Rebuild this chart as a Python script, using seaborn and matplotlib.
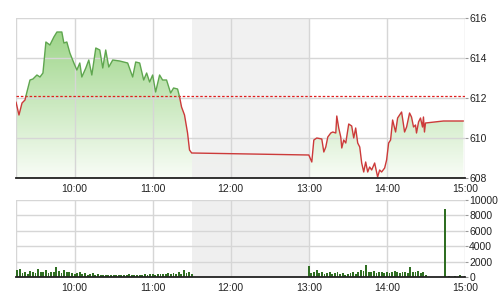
import numpy as np
import pandas as pd
import matplotlib
matplotlib.use("Agg")
import matplotlib.pyplot as plt
import seaborn as sns

# ---------------- data ----------------
price_hours = [9.250, 9.288, 9.327, 9.365, 9.390, 9.429, 9.467, 9.518, 9.557, 9.595,
               9.633, 9.684, 9.735, 9.774, 9.837, 9.863, 9.901, 9.940, 9.991, 10.029,
               10.067, 10.093, 10.144, 10.182, 10.221, 10.272, 10.323, 10.361, 10.399, 10.438,
               10.489, 10.578, 10.680, 10.744, 10.783, 10.834, 10.885, 10.923, 10.961, 11.000,
               11.038, 11.089, 11.127, 11.178, 11.230, 11.268, 11.319, 11.345, 11.370, 11.408,
               11.447, 11.472, 11.500, 13.000, 13.038, 13.064, 13.102, 13.166, 13.192, 13.217,
               13.243, 13.281, 13.307, 13.345, 13.358, 13.383, 13.409, 13.422, 13.447, 13.473,
               13.511, 13.549, 13.575, 13.600, 13.626, 13.652, 13.677, 13.703, 13.728, 13.754,
               13.779, 13.805, 13.843, 13.881, 13.907, 13.932, 13.971, 13.996, 14.022, 14.047,
               14.073, 14.111, 14.137, 14.162, 14.188, 14.213, 14.226, 14.252, 14.290, 14.315,
               14.341, 14.366, 14.379, 14.405, 14.430, 14.456, 14.468, 14.481, 14.494, 14.724,
               14.980]
price_values = [611.80, 611.15, 611.75, 611.90, 612.30, 612.90, 612.95, 613.15, 613.05, 613.25,
                614.80, 614.65, 615.05, 615.30, 615.30, 614.75, 614.80, 614.25, 613.75, 613.40,
                613.75, 613.05, 613.50, 613.90, 613.15, 614.50, 614.40, 613.50, 614.40, 613.55,
                613.90, 613.85, 613.75, 613.05, 613.80, 613.75, 612.90, 613.25, 612.80, 613.15,
                612.30, 613.15, 612.90, 612.90, 612.25, 612.50, 612.45, 612.05, 611.55, 611.15,
                610.25, 609.40, 609.25, 609.15, 608.80, 609.90, 610.00, 609.95, 609.30, 609.55,
                610.05, 610.25, 610.30, 610.25, 611.10, 610.50, 610.05, 609.50, 609.90, 609.75,
                610.70, 610.60, 610.00, 610.50, 609.75, 609.55, 608.75, 608.30, 608.80, 608.30,
                608.55, 608.40, 608.75, 608.05, 608.40, 608.30, 608.50, 608.90, 609.75, 609.90,
                610.90, 610.30, 611.00, 611.15, 611.30, 610.65, 610.30, 610.55, 611.25, 611.05,
                610.55, 610.65, 610.25, 610.80, 611.00, 610.55, 611.05, 610.30, 610.75, 610.85,
                610.85]
reference_price = 612.1

vol_am_start = 9 + 16 / 60
vol_am = [900, 1100, 500, 700, 400, 800, 600, 500, 1000, 700, 600, 900, 500, 700, 600,
          1300, 800, 500, 900, 700, 600, 500, 400, 500, 600, 400, 500, 300, 400, 500,
          300, 400, 300, 200, 300, 250, 300, 200, 250, 300, 200, 250, 300, 350, 250,
          200, 300, 250, 300, 350, 300, 400, 350, 300, 400, 350, 450, 400, 500, 400,
          500, 400, 600, 450, 900, 500, 700, 400]
vol_pm_start = 13.0
vol_pm = [1400, 500, 700, 900, 500, 600, 400, 500, 700, 400, 500, 600, 400, 500, 300,
          400, 500, 600, 400, 700, 900, 800, 1500, 700, 600, 800, 500, 700, 600, 500,
          600, 500, 700, 800, 600, 500, 700, 600, 500, 1300, 700, 600, 800, 500, 600,
          300]
vol_close_hours = [14.74, 14.80, 14.867, 14.933, 15.0]
vol_close = [8800, 150, 150, 200, 150]

x_ticks = [10, 11, 12, 13, 14, 15]
x_labels = ["10:00", "11:00", "12:00", "13:00", "14:00", "15:00"]
price_ticks = [608, 610, 612, 614, 616]
vol_ticks = [0, 2000, 4000, 6000, 8000, 10000]

# ---------------- style ----------------
sns.set_style("white")
plt.rcParams["font.family"] = ["Liberation Sans", "DejaVu Sans"]

fig = plt.figure(figsize=(5.01, 3.0), dpi=100)
ax = fig.add_axes([16 / 501, 1 - 178 / 300, 449 / 501, 160 / 300])
axv = fig.add_axes([16 / 501, 1 - 277 / 300, 449 / 501, 77 / 300])

XMIN, XMAX = 9.25, 15.0
GRID = "#d6d6d6"
BAND = "#efefef"

# ---------------- price panel ----------------
ax.set_xlim(XMIN, XMAX)
ax.set_ylim(608, 616)

xs = np.array(price_hours)
ys = np.array(price_values)

# gradient fill under line
grad = np.linspace(0, 1, 256)[:, None]
top = np.array([150, 210, 128]) / 255
bot = np.array([249, 253, 247]) / 255
img = (top[None, None, :] * (1 - grad[..., None]) + bot[None, None, :] * grad[..., None])
img = np.repeat(img, 2, axis=1)
im = ax.imshow(img, extent=[XMIN, XMAX, 608, 616], aspect="auto", origin="upper", zorder=1)
poly = ax.fill_between(xs, ys, 608, color="none", lw=0)
im.set_clip_path(poly.get_paths()[0], transform=ax.transData)

ax.axvspan(11.5, 13.0, color=BAND, alpha=0.85, lw=0, zorder=1.2)
for yv in price_ticks:
    ax.axhline(yv, color=GRID, lw=1, zorder=1.5)
for xv in [XMIN] + x_ticks:
    ax.axvline(xv, color=GRID, lw=1, zorder=1.5)

# split line into above/below reference segments
rows = []
seg = 0
side = ys[0] >= reference_price
rows.append((xs[0], ys[0], seg, side))
for i in range(1, len(xs)):
    s = ys[i] >= reference_price
    if s != side:
        t = (reference_price - ys[i - 1]) / (ys[i] - ys[i - 1])
        xc = xs[i - 1] + t * (xs[i] - xs[i - 1])
        rows.append((xc, reference_price, seg, side))
        seg += 1
        side = s
        rows.append((xc, reference_price, seg, side))
    rows.append((xs[i], ys[i], seg, side))
df = pd.DataFrame(rows, columns=["hour", "price", "seg", "above"])
df["side"] = np.where(df["above"], "up", "down")

sns.lineplot(data=df, x="hour", y="price", hue="side", units="seg", estimator=None,
             sort=False, palette={"up": "#5fa64f", "down": "#cc3a3a"}, lw=1.0,
             legend=False, ax=ax, zorder=3)

ax.axhline(reference_price, color="#e01e1e", lw=0.9, ls=(0, (2, 1.5)), zorder=2.5)

# ---------------- volume panel ----------------
axv.set_xlim(XMIN, XMAX)
axv.set_ylim(0, 10000)
axv.axvspan(11.5, 13.0, color=BAND, lw=0, zorder=0.5)
for yv in vol_ticks:
    axv.axhline(yv, color=GRID, lw=1, zorder=0.8)
for xv in [XMIN] + x_ticks:
    axv.axvline(xv, color=GRID, lw=1, zorder=0.8)

vh = ([vol_am_start + 2 * k / 60 for k in range(len(vol_am))]
      + [vol_pm_start + 2 * k / 60 for k in range(len(vol_pm))]
      + vol_close_hours)
vv = vol_am + vol_pm + vol_close
axv.bar(vh, vv, width=0.024, color="#2f6e22", lw=0, zorder=2)

# ---------------- axes cosmetics ----------------
for a, ticks in ((ax, price_ticks), (axv, vol_ticks)):
    for sp in ("top", "left", "right"):
        a.spines[sp].set_visible(False)
    a.spines["bottom"].set_color("#222222")
    a.spines["bottom"].set_linewidth(1.3)
    a.spines["bottom"].set_zorder(4)
    a.set_xticks(x_ticks)
    a.set_xticklabels(x_labels)
    a.yaxis.tick_right()
    a.set_yticks(ticks)
    a.set_yticklabels([str(t) for t in ticks])
    a.tick_params(axis="x", length=0, pad=4, labelsize=7.5, labelcolor="#222222")
    a.tick_params(axis="y", length=2.5, width=0.8, color="#999999", pad=0.5,
                  labelsize=7.5, labelcolor="#222222")
    a.set_xlabel("")
    a.set_ylabel("")

fig.savefig("out.png", dpi=100)
